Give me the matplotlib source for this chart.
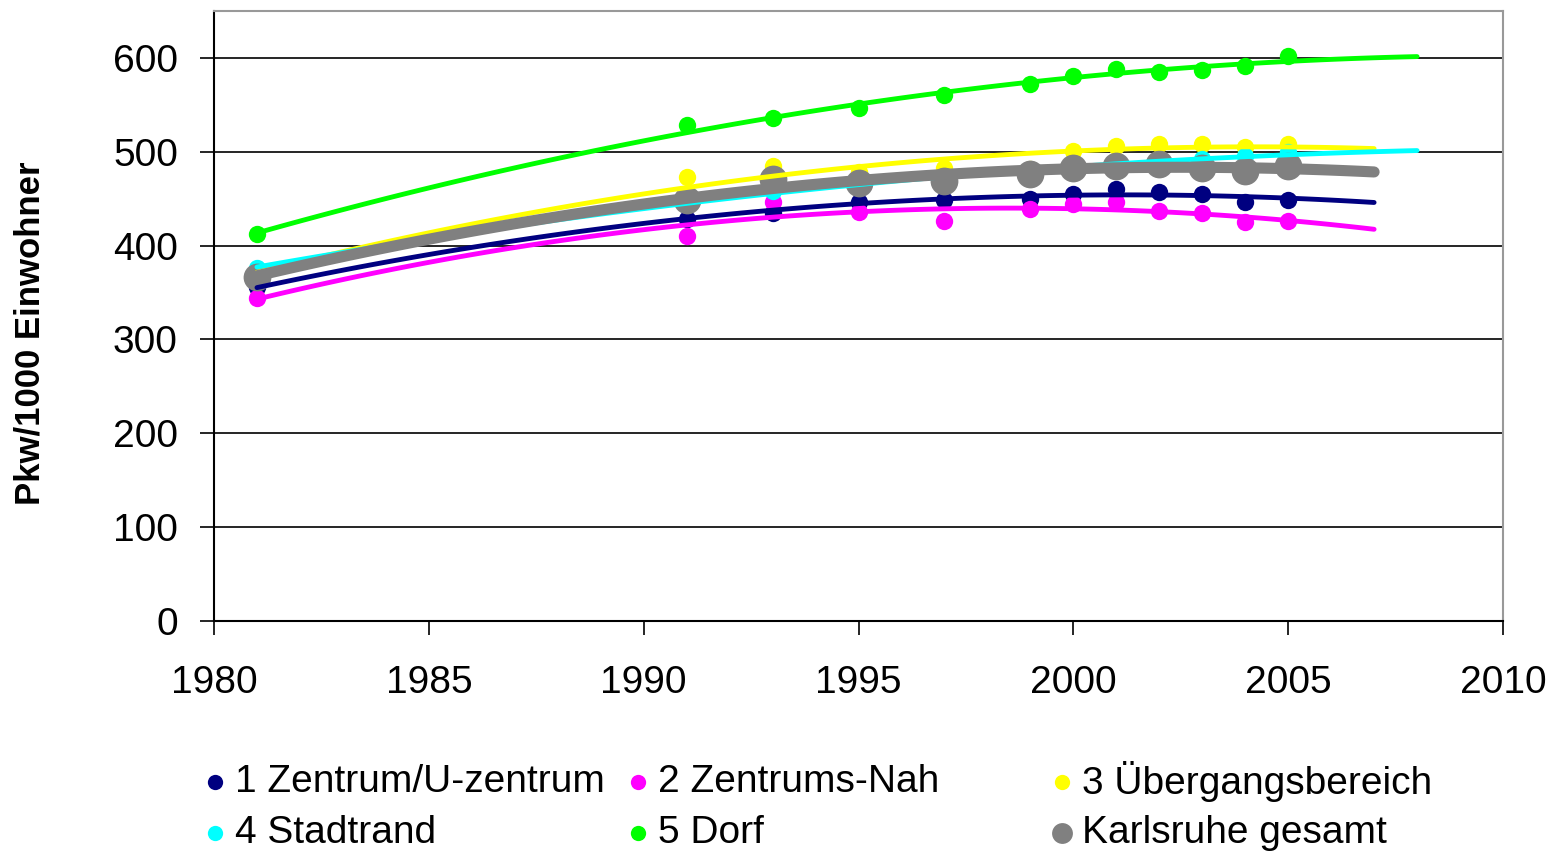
import numpy as np
import matplotlib
matplotlib.use('Agg')
import matplotlib.pyplot as plt
from matplotlib.lines import Line2D

plt.rcParams['font.family'] = ['Liberation Sans', 'DejaVu Sans']

years = [1981, 1991, 1993, 1995, 1997, 1999, 2000, 2001, 2002, 2003, 2004, 2005]

zentrum = [356, 428, 435, 446, 449, 450, 455, 460, 457, 455, 447, 449]
zentrums_nah = [344, 410, 447, 436, 426, 439, 444, 446, 437, 435, 425, 426]
uebergang = [368, 473, 485, 478, 483, 482, 501, 506, 508, 508, 505, 508]
stadtrand = [376, 448, 458, 465, 472, 478, 482, 486, 490, 492, 495, 500]
dorf = [412, 528, 536, 547, 560, 572, 581, 588, 585, 587, 591, 602]
karlsruhe = [367, 449, 471, 467, 469, 476, 483, 485, 487, 483, 479, 485]

labels = ['1 Zentrum/U-zentrum', '2 Zentrums-Nah', '3 Übergangsbereich',
          '4 Stadtrand', '5 Dorf', 'Karlsruhe gesamt']
series = [zentrum, zentrums_nah, uebergang, stadtrand, dorf, karlsruhe]
colors = ['#000080', '#ff00ff', '#ffff00', '#00ffff', '#00ff00', '#808080']
trend_end = [2007, 2007, 2007, 2008, 2008, 2007]

W, H = 1553, 856
fig = plt.figure(figsize=(W/100, H/100), dpi=100)
ax = fig.add_axes([214/W, 1 - 621/H, (1503-214)/W, (621-11)/H])

x = np.array(years)
for i, (vals, c, end) in enumerate(zip(series, colors, trend_end)):
    big = (i == 5)
    ax.plot(years, vals, 'o', color=c, markersize=20 if big else 12.5,
            markeredgewidth=0, zorder=3 + i)
    # 2nd order polynomial trend line, as in the original spreadsheet chart
    coef = np.polyfit(x, vals, 2)
    xt = np.linspace(1981, end, 100)
    ax.plot(xt, np.polyval(coef, xt), '-', color=c,
            linewidth=8 if big else 3.5, solid_capstyle='round', zorder=10 + i)

ax.set_xlim(1980, 2010)
ax.set_ylim(0, 650)
ax.set_xticks(range(1980, 2011, 5))
ax.set_yticks(range(0, 601, 100))
ax.yaxis.grid(True, color='black', linewidth=1.2)
ax.set_axisbelow(True)
ax.tick_params(axis='both', labelsize=28, length=10, width=1.2, direction='out')
ax.tick_params(axis='x', pad=22)
ax.tick_params(axis='y', pad=16)
for s in ['top', 'right']:
    ax.spines[s].set_color('#999999')
    ax.spines[s].set_linewidth(1.5)
for s in ['left', 'bottom']:
    ax.spines[s].set_linewidth(1.5)

fig.text(30/W, 1 - 333/H, 'Pkw/1000 Einwohner', rotation=90,
         fontsize=25, fontweight='bold', ha='center', va='center')

# legend drawn by hand: 3 equal columns, 2 rows
mark_x = [215, 638, 1062]
row_y = [782, 833]
for idx, lab in enumerate(labels):
    col = idx % 3
    row = idx // 3
    fx = mark_x[col] / W
    fy = 1 - row_y[row] / H
    fig.add_artist(Line2D([fx], [fy], linestyle='none', marker='o',
                          color=colors[idx], markeredgewidth=0,
                          markersize=15 if idx == 5 else 11,
                          transform=fig.transFigure))
    fig.text(fx + 20/W, fy, lab, fontsize=28, ha='left', va='center')

fig.savefig('out.png', dpi=100)
